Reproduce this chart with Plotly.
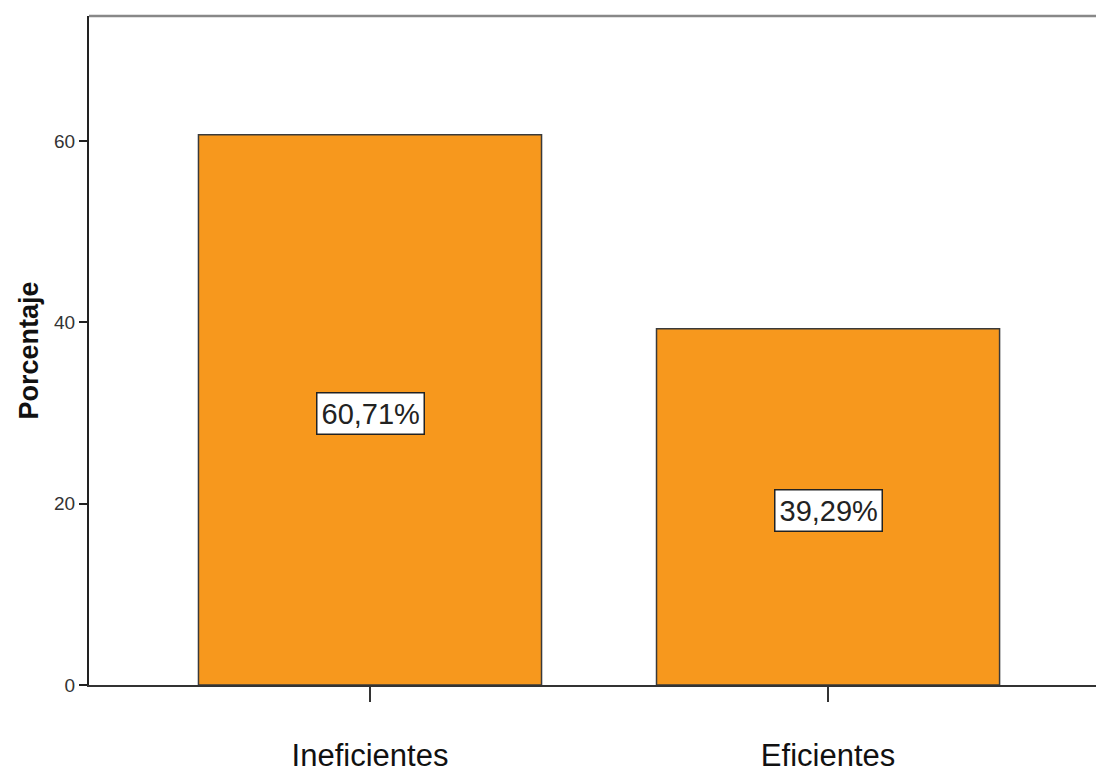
import plotly.graph_objects as go

categories = ["Ineficientes", "Eficientes"]
values = [60.71, 39.29]
labels = ["60,71%", "39,29%"]
y_ticks = [0, 20, 40, 60]

fig = go.Figure()
fig.add_trace(go.Bar(
    x=categories, y=values, width=0.749,
    marker=dict(color="#F7981D", line=dict(color="#3a3a3a", width=1.5)),
    hoverinfo="skip",
))

for c, v, t in zip(categories, values, labels):
    fig.add_annotation(
        x=c, y=v / 2, text=t, showarrow=False, yshift=-4,
        font=dict(family="Arial, Liberation Sans", size=29, color="#222222"),
        bgcolor="white", bordercolor="#222222", borderwidth=1.5, borderpad=4,
    )

fig.add_shape(type="line", xref="paper", yref="paper", x0=0, x1=1, y0=1, y1=1,
              line=dict(color="#888888", width=2.5))

fig.update_layout(
    width=1096, height=772,
    margin=dict(l=89, r=0, t=16, b=87),
    paper_bgcolor="white", plot_bgcolor="white",
    showlegend=False,
    font=dict(family="Arial, Liberation Sans", color="#222222"),
)
fig.update_xaxes(
    range=[-0.6135, 1.585], showline=True, linecolor="#333333", linewidth=2,
    ticks="outside", ticklen=15, tickwidth=2, tickcolor="#333333",
    tickfont=dict(size=31, color="#111111"), ticklabelstandoff=27,
    showgrid=False, zeroline=False, automargin=False,
)
fig.update_yaxes(
    range=[0, 73.8], tickvals=y_ticks, showline=True, linecolor="#222222", linewidth=2,
    ticks="outside", ticklen=8, tickwidth=2, tickcolor="#222222",
    tickfont=dict(size=19, color="#333333"),
    title=dict(text="<b>Porcentaje</b>", font=dict(size=27, color="#111111"), standoff=8),
    showgrid=False, zeroline=False, automargin=False,
)

# remove the default 8px page margin so the figure fills the window exactly
fig.write_html(
    "out.html",
    config={"displayModeBar": False},
    post_script="document.body.style.margin='0';document.body.style.overflow='hidden';",
)
